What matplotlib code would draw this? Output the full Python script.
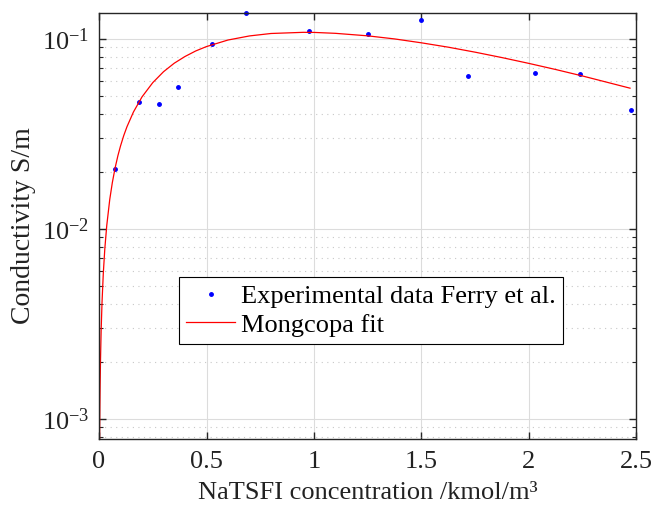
import numpy as np
import matplotlib.pyplot as plt
from matplotlib.ticker import LogLocator, NullFormatter, FixedLocator

plt.rcParams['font.family'] = ['Liberation Serif', 'DejaVu Serif']
plt.rcParams['mathtext.fontset'] = 'custom'
plt.rcParams['mathtext.rm'] = 'Liberation Serif'
plt.rcParams['mathtext.it'] = 'Liberation Serif:italic'

# experimental points
conc = [0.073, 0.186, 0.278, 0.369, 0.527, 0.684, 0.978, 1.250, 1.499, 1.715, 2.028, 2.236, 2.473]
cond = [0.0206, 0.0466, 0.0455, 0.0555, 0.0935, 0.1365, 0.1094, 0.1062, 0.125, 0.0637, 0.0658, 0.0655, 0.0420]

# fitted curve
fit_conc = [0.0025, 0.003, 0.004, 0.005, 0.007, 0.01, 0.014, 0.02, 0.027, 0.036, 0.05, 0.062,
            0.075, 0.088, 0.1, 0.115, 0.13, 0.16, 0.2, 0.25, 0.3, 0.35, 0.4, 0.45, 0.5, 0.6,
            0.7, 0.8, 0.95, 1.0, 1.1, 1.25, 1.375, 1.5, 1.625, 1.75, 1.875, 2.0, 2.125, 2.25,
            2.375, 2.47]
fit_cond = [0.00073, 0.000877, 0.00117, 0.001465, 0.00205, 0.00293, 0.0041, 0.00584, 0.00785,
            0.0104, 0.01427, 0.0175, 0.02093, 0.02426, 0.02725, 0.0309, 0.0344, 0.0411, 0.0494,
            0.0587, 0.0670, 0.0743, 0.0806, 0.0862, 0.0909, 0.0984, 0.1034, 0.1065, 0.1080,
            0.1079, 0.1067, 0.1035, 0.0997, 0.0951, 0.0902, 0.0849, 0.0795, 0.0741, 0.0688,
            0.0636, 0.0585, 0.0549]

axcol = '#262626'

fig = plt.figure(figsize=(6.54, 5.08), dpi=100)
ax = fig.add_axes([0.1514, 0.1364, 0.8218, 0.8374])

ax.plot(conc, cond, '.', color='blue', markersize=5, label='Experimental data Ferry et al.', clip_on=False)
ax.plot(fit_conc, fit_cond, '-', color='red', linewidth=0.9, label='Mongcopa fit')

ax.set_yscale('log')
ax.set_xlim(0, 2.5)
ax.set_ylim(7.85e-4, 0.136)

ax.xaxis.set_major_locator(FixedLocator([0, 0.5, 1, 1.5, 2, 2.5]))
ax.set_xticklabels(['0', '0.5', '1', '1.5', '2', '2.5'])
ax.yaxis.set_major_locator(FixedLocator([1e-3, 1e-2, 1e-1]))
ax.set_yticklabels([r'$10^{-3}$', r'$10^{-2}$', r'$10^{-1}$'])
ax.yaxis.set_minor_locator(LogLocator(base=10, subs=np.arange(2, 10), numticks=20))
ax.yaxis.set_minor_formatter(NullFormatter())

ax.grid(True, which='major', color='#dcdcdc', linewidth=0.8, linestyle='-')
ax.grid(True, which='minor', axis='y', color='#c8c8c8', linewidth=0.8, linestyle=(0, (1, 4)))
ax.set_axisbelow(True)

for s in ax.spines.values():
    s.set_color(axcol)
    s.set_linewidth(1.0)
ax.tick_params(which='both', direction='in', top=True, right=True, colors=axcol,
               labelcolor='#222222', labelsize=19)
ax.tick_params(axis='x', which='major', length=5, width=1.0, pad=9)
ax.tick_params(axis='y', which='major', length=5, width=1.0, pad=7)
ax.tick_params(which='minor', length=3, width=0.8)

ax.set_xlabel('NaTSFI concentration /kmol/m³', fontsize=19, color='#222222', labelpad=6)
ax.set_ylabel('Conductivity S/m', fontsize=20, color='#222222', labelpad=4)

leg = ax.legend(loc='upper left', bbox_to_anchor=(0.149, 0.379), fontsize=19, frameon=True,
                fancybox=False, edgecolor='black', framealpha=1, handlelength=1.85,
                borderpad=0.28, labelspacing=0.18, handletextpad=0.2, borderaxespad=0)
leg.get_frame().set_linewidth(0.8)

fig.savefig('out.png', dpi=100)
